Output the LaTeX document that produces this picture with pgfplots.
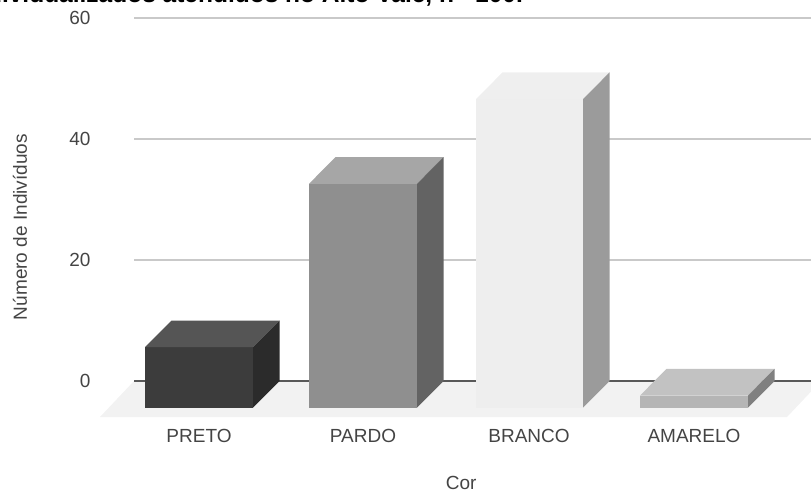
\documentclass[border=0pt]{standalone}
\usepackage{pgfplots}
\pgfplotsset{compat=1.18}
\usepackage{fontspec}
\setmainfont{Liberation Sans}
\definecolor{lab}{HTML}{444444}
\definecolor{gridc}{HTML}{C9C9C9}
\definecolor{basec}{HTML}{595959}
\definecolor{floorc}{HTML}{F2F2F2}
\definecolor{pretoF}{HTML}{3C3C3C}
\definecolor{pretoT}{HTML}{555555}
\definecolor{pretoS}{HTML}{2B2B2B}
\definecolor{pardoF}{HTML}{8F8F8F}
\definecolor{pardoT}{HTML}{A6A6A6}
\definecolor{pardoS}{HTML}{636363}
\definecolor{brancoF}{HTML}{EEEEEE}
\definecolor{brancoT}{HTML}{EFEFEF}
\definecolor{brancoS}{HTML}{9B9B9B}
\definecolor{amareloF}{HTML}{B5B5B5}
\definecolor{amareloT}{HTML}{C2C2C2}
\definecolor{amareloS}{HTML}{808080}
% Depth of the extruded bars: horizontal shift in x units, vertical shift in y units
\newcommand{\depthx}{26.5}
\newcommand{\depthy}{4.4}
% left edge, right edge, value, colour prefix
\newcommand{\extrudedbar}[4]{%
  \pgfmathsetmacro{\xa}{#1}\pgfmathsetmacro{\xb}{#2}%
  \pgfmathsetmacro{\xc}{#2+\depthx}\pgfmathsetmacro{\xd}{#1+\depthx}%
  \pgfmathsetmacro{\yf}{-\depthy}\pgfmathsetmacro{\yt}{#3-\depthy}%
  \addplot[fill=#4F,draw=none] coordinates {(\xa,\yf) (\xb,\yf) (\xb,\yt) (\xa,\yt)} --cycle;
  \addplot[fill=#4T,draw=none] coordinates {(\xa,\yt) (\xb,\yt) (\xc,#3) (\xd,#3)} --cycle;
  \addplot[fill=#4S,draw=none] coordinates {(\xb,\yf) (\xc,0) (\xc,#3) (\xb,\yt)} --cycle;
}
\begin{document}
\begin{tikzpicture}[x=1pt,y=1pt]
\path[use as bounding box,clip] (0,0) rectangle (811,-490);
\node[anchor=base east,inner sep=0pt,font=\fontsize{24.5}{25}\selectfont\bfseries,text=black] at (523,-2)
  {individualizados atendidos no Alto Vale, n= 100.};
\begin{axis}[
  at={(100pt,-417pt)},anchor=south west,
  x=1pt,y=6.05pt,
  xmin=100,xmax=811,ymin=-5.95,ymax=60,
  clip=false,
  axis line style={draw=none},
  tick style={draw=none},
  xtick={199,363,529,694},
  xticklabels={PRETO,PARDO,BRANCO,AMARELO},
  ytick={0,20,40,60},
  ticklabel style={font=\fontsize{19}{20}\selectfont,text=lab},
  /pgf/number format/assume math mode=true,
  xticklabel style={yshift=-9pt},
  yticklabel style={xshift=-6pt},
  xlabel={Cor},
  ylabel={Número de Indivíduos},
  every axis x label/.style={at={(axis description cs:0.508,-0.165)},anchor=center,
    font=\fontsize{19}{20}\selectfont,text=lab},
  every axis y label/.style={at={(axis description cs:-0.1125,0.476)},rotate=90,anchor=center,
    font=\fontsize{19}{20}\selectfont,text=lab},
]
% horizontal reference lines
\addplot[gridc,line width=1.2pt] coordinates {(134,20) (811,20)};
\addplot[gridc,line width=1.2pt] coordinates {(134,40) (811,40)};
\addplot[gridc,line width=1.2pt] coordinates {(134,60) (811,60)};
% floor of the chart and its back edge
\addplot[fill=floorc,draw=none] coordinates {(100,-5.95) (787,-5.95) (821,0) (134,0)} --cycle;
\addplot[basec,line width=1.6pt] coordinates {(134,0) (811,0)};
% bars
\extrudedbar{145}{253}{10}{preto}
\extrudedbar{309}{417}{37}{pardo}
\extrudedbar{476}{583}{51}{branco}
\extrudedbar{640}{748}{2}{amarelo}
\end{axis}
\end{tikzpicture}
\end{document}
